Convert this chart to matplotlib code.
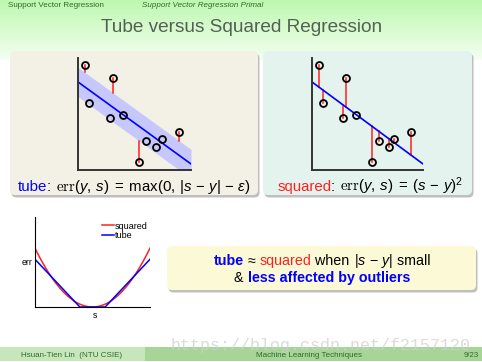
import numpy as np
import matplotlib.pyplot as plt
from matplotlib.patches import FancyBboxPatch, Rectangle

plt.rcParams['font.family'] = ['Liberation Sans', 'DejaVu Sans']
plt.rcParams['mathtext.fontset'] = 'custom'
plt.rcParams['mathtext.rm'] = 'Liberation Sans'
plt.rcParams['mathtext.it'] = 'Liberation Sans:italic'
plt.rcParams['mathtext.sf'] = 'cmr10'

W, H = 482, 362

# sample points (same data in both panels)
pts_x = [0.62, 3.10, 0.97, 2.83, 3.98, 5.40, 6.02, 6.90, 7.43, 8.94]
pts_y = [9.38, 8.21, 5.98, 4.64, 4.91, 0.71, 2.59, 2.05, 2.77, 3.39]
# regression line  y = b + w*x, tube half width
line_b, line_w = 7.86, -0.732
tube_eps = 1.3

# err curves of the small plot
err_eps = 0.22
tube_slope = 1.04

BLUE = '#0000ff'
RED = '#ff2020'
DGREEN = '#2d6b2d'

fig = plt.figure(figsize=(W / 100, H / 100), dpi=100)
bg = fig.add_axes([0, 0, 1, 1])
bg.axis('off')

# header gradient
top = np.array([190, 248, 175]) / 255
bot = np.array([244, 254, 242]) / 255
t = np.linspace(0, 1, 60)[:, None]
grad = (top * (1 - t) + bot * t)[:, None, :]
bg.imshow(grad, extent=[0, W, 60, 0], aspect='auto', zorder=0)
bg.set_xlim(0, W)
bg.set_ylim(H, 0)


def frac(x0, y0, x1, y1):
    return [x0 / W, 1 - y1 / H, (x1 - x0) / W, (y1 - y0) / H]


def panel(x0, y0, x1, y1, color):
    bg.add_patch(FancyBboxPatch((x0 + 1.5, y0 + 2.5), x1 - x0, y1 - y0,
                                boxstyle='round,pad=0,rounding_size=5',
                                fc='#8c8c8c', ec='none', alpha=0.55, zorder=1))
    bg.add_patch(FancyBboxPatch((x0, y0), x1 - x0, y1 - y0,
                                boxstyle='round,pad=0,rounding_size=5',
                                fc=color, ec='none', zorder=2))


def rich_text(xc, y, parts, size):
    r = fig.canvas.get_renderer()
    arts, widths = [], []
    for s, kw in parts:
        txt = bg.text(0, y, s, fontsize=size, va='baseline', ha='left', zorder=5, **kw)
        if '$' in s:
            w = txt.get_window_extent(r).width
        else:
            a = bg.text(0, y, '|' + s + '|', fontsize=size, **kw)
            b = bg.text(0, y, '||', fontsize=size, **kw)
            w = a.get_window_extent(r).width - b.get_window_extent(r).width
            a.remove()
            b.remove()
        arts.append(txt)
        widths.append(w)
    x = xc - sum(widths) / 2
    for txt, w in zip(arts, widths):
        txt.set_x(x)
        x += w


# header
bg.text(8, 7, 'Support Vector Regression', fontsize=5.8, color=DGREEN, va='baseline')
bg.text(142, 7, 'Support Vector Regression Primal', fontsize=5.8, color=DGREEN,
        style='italic', va='baseline')
bg.text(242, 32, 'Tube versus Squared Regression', fontsize=13.7, color='#526252',
        ha='center', va='baseline')

panel(10, 51, 258, 195, '#f3f0e5')
panel(263, 51, 472, 195, '#e4f3ed')
panel(167, 246, 476, 290, '#fcf9d6')

# footer
bg.add_patch(Rectangle((0, 347), 145, 14, fc='#c8e6bb', ec='none', zorder=2))
bg.add_patch(Rectangle((145, 347), 337, 14, fc='#a7d597', ec='none', zorder=2))
bg.text(72, 357, 'Hsuan-Tien Lin  (NTU CSIE)', fontsize=5.8, color=DGREEN,
        ha='center', va='baseline', zorder=5)
bg.text(309, 357, 'Machine Learning Techniques', fontsize=5.8, color=DGREEN,
        ha='center', va='baseline', zorder=5)
bg.text(471, 357, '9/23', fontsize=5.6, color=DGREEN, ha='center', va='baseline', zorder=5)
bg.text(320, 350, 'https://blog.csdn.net/f2157120', fontsize=12, family='Liberation Mono',
        color='#cfcfcf', alpha=0.75, ha='center', va='baseline', zorder=6)

# formulas
rich_text(134, 191, [('tube', dict(color=BLUE)), (': ', dict(color='k')),
                     (r'$\mathsf{err}(y,\, s) \;=\; \max(0,\, |s \,-\, y| \,-\, \epsilon)$',
                      dict(color='k'))], 10.8)
rich_text(370, 191, [('squared', dict(color=RED)), (': ', dict(color='k')),
                     (r'$\mathsf{err}(y,\, s) \;=\; (s \,-\, y)^2$', dict(color='k'))], 10.8)
rich_text(322, 265, [('tube', dict(color=BLUE, weight='bold')), (' \u2248 ', dict(color='k')),
                     ('squared', dict(color=RED)), (' when ', dict(color='k')),
                     (r'$|s \,-\, y|$', dict(color='k')), (' small', dict(color='k'))], 10.3)
rich_text(322, 282, [('& ', dict(color='k')),
                     ('less affected by outliers', dict(color=BLUE, weight='bold'))], 10.3)

xs = np.array([0, 10])
ys = line_b + line_w * xs


def scatter_axes(box, tube):
    ax = fig.add_axes(frac(*box))
    ax.set_facecolor('none')
    ax.set_xlim(0, 10)
    ax.set_ylim(0, 10)
    for s in ['top', 'right']:
        ax.spines[s].set_visible(False)
    for s in ['left', 'bottom']:
        ax.spines[s].set_color('#333333')
        ax.spines[s].set_linewidth(1.4)
    ax.set_xticks([])
    ax.set_yticks([])
    if tube:
        ax.fill_between(xs, ys - tube_eps, ys + tube_eps, color='#c6c8fb', lw=0)
    for px, py in zip(pts_x, pts_y):
        fit = line_b + line_w * px
        if tube:
            if py > fit + tube_eps:
                ax.plot([px, px], [fit + tube_eps, py], color=RED, lw=1.1)
            elif py < fit - tube_eps:
                ax.plot([px, px], [py, fit - tube_eps], color=RED, lw=1.1)
        else:
            ax.plot([px, px], [fit, py], color=RED, lw=1.1)
    ax.plot(xs, ys, color=BLUE, lw=1.2)
    ax.plot(pts_x, pts_y, 'o', ms=5, mfc='none', mec='k', mew=1.3, clip_on=False)
    return ax


scatter_axes((78, 58, 191, 170), True)
scatter_axes((312, 58, 423, 170), False)

# small err plot
ax3 = fig.add_axes(frac(35, 217, 150, 307))
ax3.set_facecolor('none')
s = np.linspace(-1, 1, 201)
ax3.plot(s, s ** 2, color=RED, lw=1.1, label='squared')
ax3.plot(s, tube_slope * np.maximum(0, np.abs(s) - err_eps), color=BLUE, lw=1.1, label='tube')
ax3.set_xlim(-1, 1)
ax3.set_ylim(0, 1.53)
for sp in ['top', 'right']:
    ax3.spines[sp].set_visible(False)
ax3.set_xticks([])
ax3.set_yticks([])
ax3.legend(loc='upper right', bbox_to_anchor=(1.02, 1.0), frameon=False, fontsize=6.5,
           handlelength=1.3, handletextpad=0.1, labelspacing=0.1, borderpad=0)
bg.text(27, 265, 'err', fontsize=6.3, ha='center', va='baseline')
bg.text(95, 318, 's', fontsize=6.3, ha='center', va='baseline')

fig.savefig('out.png', dpi=100)
